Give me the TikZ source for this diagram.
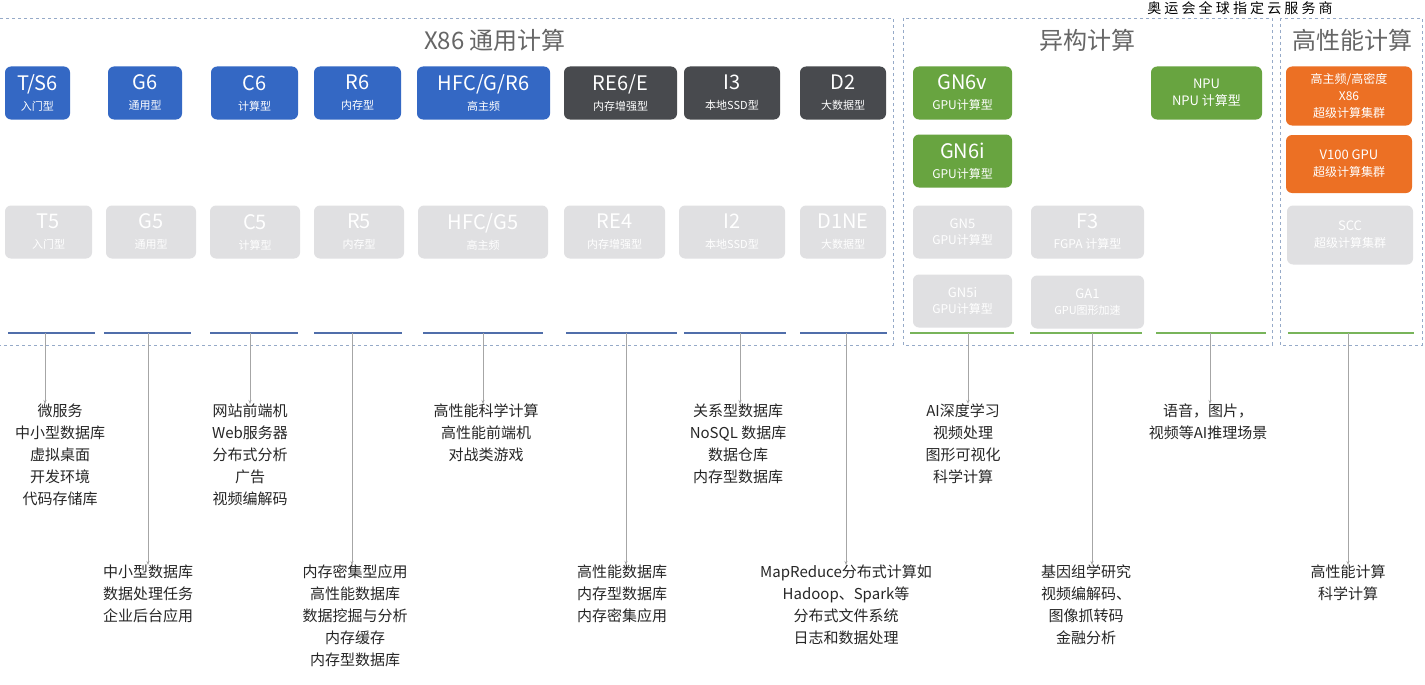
\documentclass[tikz,border=0pt]{standalone}
\usepackage{fontspec}
\setmainfont{Noto Sans CJK SC}
\usetikzlibrary{arrows.meta}
\definecolor{bl}{RGB}{52,104,196}
\definecolor{dk}{RGB}{72,74,78}
\definecolor{gr}{RGB}{104,164,64}
\definecolor{og}{RGB}{236,112,36}
\definecolor{lg}{RGB}{224,224,226}
\definecolor{fr}{RGB}{150,170,200}
\definecolor{ln}{RGB}{80,110,170}
\definecolor{gl}{RGB}{120,180,90}
\begin{document}
\begin{tikzpicture}[x=1pt,y=-1pt,
 box/.style={rounded corners=6pt,draw=none,align=center,text=white,inner sep=0pt,font=\fontsize{11}{20}\selectfont},
 frame/.style={draw=fr,dashed,line width=0.8pt},
 lab/.style={align=center,font=\fontsize{15}{22}\selectfont,text=black!85,anchor=north,inner sep=0pt},
 con/.style={draw=gray!70,line width=0.7pt,-{Stealth[length=4pt]}},
 bar/.style={line width=1.5pt}]
\useasboundingbox (0,0) rectangle (1425,685);
\fill[white] (0,0) rectangle (1425,685);
\draw[frame] (-5,18) rectangle (893,345);
\draw[frame] (903,18) rectangle (1272,345);
\draw[frame] (1280,18) rectangle (1422,345);
\node[font=\fontsize{14}{14}\selectfont] (ao) at (1240,8) {奥 运 会 全 球 指 定 云 服 务 商};
\node[font=\fontsize{24}{24}\selectfont,text=gray!80!black] (t1) at (495,40) {X86 通用计算};
\node[font=\fontsize{24}{24}\selectfont,text=gray!80!black] (t2) at (1087,40) {异构计算};
\node[font=\fontsize{24}{24}\selectfont,text=gray!80!black] (t3) at (1352,40) {高性能计算};
% boxes
\newcommand{\bx}[8]{\node[box,fill=#5,text=#6,minimum width=#3-#2,minimum height=#8] (#1) at ({(#2+#3)/2},#4) {#7};}
\bx{a1}{5}{70}{93}{bl}{white}{{\fontsize{20}{22}\selectfont T/S6}\\{\fontsize{11}{12}\selectfont 入门型}}{53}
\bx{a2}{108}{182}{93}{bl}{white}{{\fontsize{20}{22}\selectfont G6}\\{\fontsize{11}{12}\selectfont 通用型}}{53}
\bx{a3}{211}{298}{93}{bl}{white}{{\fontsize{20}{22}\selectfont C6}\\{\fontsize{11}{12}\selectfont 计算型}}{53}
\bx{a4}{314}{401}{93}{bl}{white}{{\fontsize{20}{22}\selectfont R6}\\{\fontsize{11}{12}\selectfont 内存型}}{53}
\bx{a5}{417}{550}{93}{bl}{white}{{\fontsize{20}{22}\selectfont HFC/G/R6}\\{\fontsize{11}{12}\selectfont 高主频}}{53}
\bx{a6}{564}{677}{93}{dk}{white}{{\fontsize{20}{22}\selectfont RE6/E}\\{\fontsize{11}{12}\selectfont 内存增强型}}{53}
\bx{a7}{684}{780}{93}{dk}{white}{{\fontsize{20}{22}\selectfont I3}\\{\fontsize{11}{12}\selectfont 本地SSD型}}{53}
\bx{a8}{800}{886}{93}{dk}{white}{{\fontsize{20}{22}\selectfont D2}\\{\fontsize{11}{12}\selectfont 大数据型}}{53}
\bx{b1}{5}{92}{232}{lg}{white}{{\fontsize{20}{22}\selectfont T5}\\{\fontsize{11}{12}\selectfont 入门型}}{53}
\bx{b2}{106}{196}{232}{lg}{white}{{\fontsize{20}{22}\selectfont G5}\\{\fontsize{11}{12}\selectfont 通用型}}{53}
\bx{b3}{210}{300}{232}{lg}{white}{{\fontsize{20}{22}\selectfont C5}\\{\fontsize{11}{12}\selectfont 计算型}}{53}
\bx{b4}{314}{404}{232}{lg}{white}{{\fontsize{20}{22}\selectfont R5}\\{\fontsize{11}{12}\selectfont 内存型}}{53}
\bx{b5}{418}{548}{232}{lg}{white}{{\fontsize{20}{22}\selectfont HFC/G5}\\{\fontsize{11}{12}\selectfont 高主频}}{53}
\bx{b6}{564}{665}{232}{lg}{white}{{\fontsize{20}{22}\selectfont RE4}\\{\fontsize{11}{12}\selectfont 内存增强型}}{53}
\bx{b7}{679}{785}{232}{lg}{white}{{\fontsize{20}{22}\selectfont I2}\\{\fontsize{11}{12}\selectfont 本地SSD型}}{53}
\bx{b8}{800}{886}{232}{lg}{white}{{\fontsize{20}{22}\selectfont D1NE}\\{\fontsize{11}{12}\selectfont 大数据型}}{53}
\bx{g1}{913}{1012}{93}{gr}{white}{{\fontsize{20}{22}\selectfont GN6v}\\{\fontsize{12}{13}\selectfont GPU计算型}}{53}
\bx{g2}{913}{1012}{161}{gr}{white}{{\fontsize{20}{22}\selectfont GN6i}\\{\fontsize{12}{13}\selectfont GPU计算型}}{53}
\bx{g3}{913}{1012}{232}{lg}{white}{{\fontsize{13}{15}\selectfont GN5}\\[-4pt]{\fontsize{12}{13}\selectfont GPU计算型}}{53}
\bx{g4}{913}{1012}{301}{lg}{white}{{\fontsize{13}{15}\selectfont GN5i}\\[-4pt]{\fontsize{12}{13}\selectfont GPU计算型}}{53}
\bx{f3}{1031}{1144}{232}{lg}{white}{{\fontsize{20}{22}\selectfont F3}\\{\fontsize{12}{13}\selectfont FGPA 计算型}}{53}
\bx{ga}{1031}{1144}{302}{lg}{white}{{\fontsize{13}{15}\selectfont GA1}\\[-4pt]{\fontsize{11}{13}\selectfont GPU图形加速}}{53}
\bx{np}{1151}{1262}{93}{gr}{white}{{\fontsize{13}{15}\selectfont NPU}\\[-3pt]{\fontsize{13}{15}\selectfont NPU 计算型}}{53}
\bx{o1}{1286}{1412}{96}{og}{white}{{\fontsize{12}{13}\selectfont 高主频/高密度}\\[-3pt]{\fontsize{12}{13}\selectfont X86}\\[-3pt]{\fontsize{12}{13}\selectfont 超级计算集群}}{59}
\bx{o2}{1286}{1412}{164}{og}{white}{{\fontsize{13}{16}\selectfont V100 GPU}\\[-3pt]{\fontsize{12}{15}\selectfont 超级计算集群}}{58}
\bx{sc}{1287}{1413}{235}{lg}{white}{{\fontsize{13}{16}\selectfont SCC}\\[-3pt]{\fontsize{12}{15}\selectfont 超级计算集群}}{59}
% bars
\foreach \a/\b/\c in {8/95/ln,104/191/ln,210/298/ln,314/402/ln,423/543/ln,566/677/ln,684/786/ln,800/887/ln,910/1014/gl,1030/1142/gl,1156/1266/gl,1288/1414/gl}
 {\draw[bar,draw=\c] (\a,333) -- (\b,333);}
% labels
\node[lab] (l1) at (60,404) {微服务\\中小型数据库\\虚拟桌面\\开发环境\\代码存储库};
\node[lab] (l2) at (148,565) {中小型数据库\\数据处理任务\\企业后台应用};
\node[lab] (l3) at (250,404) {网站前端机\\Web服务器\\分布式分析\\广告\\视频编解码};
\node[lab] (l4) at (355,565) {内存密集型应用\\高性能数据库\\数据挖掘与分析\\内存缓存\\内存型数据库};
\node[lab] (l5) at (486,404) {高性能科学计算\\高性能前端机\\对战类游戏};
\node[lab] (l6) at (622,565) {高性能数据库\\内存型数据库\\内存密集应用};
\node[lab] (l7) at (738,404) {关系型数据库\\NoSQL 数据库\\数据仓库\\内存型数据库};
\node[lab] (l8) at (846,565) {MapReduce分布式计算如\\Hadoop、Spark等\\分布式文件系统\\日志和数据处理};
\node[lab] (l9) at (963,404) {AI深度学习\\视频处理\\图形可视化\\科学计算};
\node[lab] (l10) at (1086,565) {基因组学研究\\视频编解码、\\图像抓转码\\金融分析};
\node[lab] (l11) at (1208,404) {语音，图片，\\视频等AI推理场景};
\node[lab] (l12) at (1348,565) {高性能计算\\科学计算};
\foreach \x/\l in {45/l1,148/l2,250/l3,352/l4,483/l5,626/l6,740/l7,846/l8,968/l9,1092/l10,1210/l11,1348/l12}
 {\coordinate (s\l) at (\x,333); \draw[con] (s\l) -- (s\l|-\l.north);}
\end{tikzpicture}
\end{document}
